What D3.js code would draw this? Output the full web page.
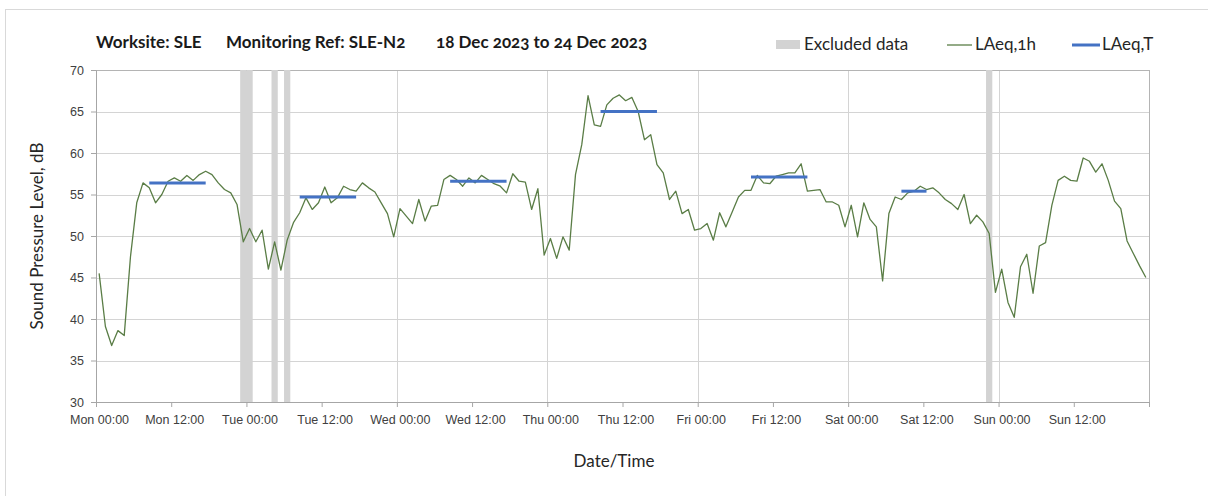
<!DOCTYPE html>
<meta charset="utf-8">
<style>
  body { margin: 0; background: #fff; }
  svg { font-family: Lato, "Open Sans", sans-serif; font-variant-numeric: oldstyle-nums; }
  .axis .domain { stroke: #a6a6a6; }
  .axis .tick line { stroke: #a6a6a6; }
  .axis .tick text { fill: #404040; font-size: 12.5px; }
  .grid line { stroke: #d4d4d4; shape-rendering: crispEdges; }
</style>
<svg width="1208" height="496"></svg>
<script src="https://cdn.jsdelivr.net/npm/d3@7"></script>
<script>
  // hourly LAeq,1h from Mon 18 Dec 2023 00:00
  var startTime = "2023-12-18T00:00:00Z";
  var laeq1h = [
    45.5, 39.1, 36.8, 38.6, 38.0, 47.5, 54.0, 56.4, 55.8, 54.0, 55.0, 56.6,
    57.0, 56.6, 57.3, 56.7, 57.4, 57.8, 57.4, 56.4, 55.6, 55.2, 53.8, 49.3,
    50.9, 49.3, 50.7, 46.0, 49.3, 45.9, 49.5, 51.6, 52.8, 54.6, 53.2, 54.0,
    55.9, 54.0, 54.6, 56.0, 55.6, 55.4, 56.4, 55.8, 55.3, 54.0, 52.7, 49.9,
    53.3, 52.4, 51.5, 54.4, 51.8, 53.6, 53.7, 56.8, 57.3, 56.8, 56.0, 57.0,
    56.4, 57.3, 56.8, 56.3, 56.0, 55.2, 57.5, 56.6, 56.5, 53.2, 55.7, 47.7,
    49.7, 47.3, 49.9, 48.3, 57.4, 61.0, 66.9, 63.4, 63.2, 65.8, 66.6, 67.0,
    66.3, 66.7, 65.0, 61.6, 62.2, 58.6, 57.6, 54.4, 55.4, 52.7, 53.2, 50.7,
    50.9, 51.5, 49.5, 52.8, 51.1, 52.9, 54.7, 55.5, 55.5, 57.3, 56.4, 56.3,
    57.2, 57.4, 57.6, 57.6, 58.7, 55.4, 55.5, 55.6, 54.1, 54.1, 53.7, 51.1,
    53.7, 49.9, 54.0, 52.0, 51.1, 44.6, 52.7, 54.7, 54.4, 55.2, 55.4, 56.0,
    55.6, 55.8, 55.2, 54.4, 53.9, 53.2, 55.0, 51.5, 52.5, 51.7, 50.3, 43.2,
    46.0, 42.0, 40.2, 46.3, 47.8, 43.1, 48.8, 49.2, 53.7, 56.7, 57.2, 56.7,
    56.6, 59.4, 59.0, 57.7, 58.7, 56.7, 54.2, 53.3, 49.4, 47.9, 46.4, 45.0
  ];
  // LAeq,T periods (hour index of first and last hour)
  var periodStart = [8, 32, 56, 80, 104, 128];
  var periodEnd = [17, 41, 65, 89, 113, 132];
  var periodLevel = [56.4, 54.7, 56.6, 65.0, 57.1, 55.4];
  // excluded hours
  var excludedHours = [23, 24, 28, 30, 142];
  var yTicks = [30, 35, 40, 45, 50, 55, 60, 65, 70];

  var svg = d3.select("svg");
  var margin = { top: 70, right: 59, bottom: 94, left: 96 };
  var width = 1208 - margin.left - margin.right;
  var height = 496 - margin.top - margin.bottom;

  var t0 = new Date(startTime);
  var tEnd = d3.utcDay.offset(t0, 7);
  var hour = function(h) { return t0.getTime() + h * 36e5; };

  var x = d3.scaleUtc()
    .domain([t0, tEnd])
    .range([margin.left, margin.left + width]);
  var y = d3.scaleLinear()
    .domain([30, 70])
    .range([margin.top + height, margin.top]);

  // outer frame
  svg.append("rect")
    .attr("x", 5.5).attr("y", 9.5)
    .attr("width", 1220).attr("height", 500)
    .attr("fill", "none").attr("stroke", "#d9d9d9");

  var grid = svg.append("g").attr("class", "grid");
  grid.selectAll(".h").data(yTicks.slice(1))
    .enter().append("line")
    .attr("x1", margin.left).attr("x2", margin.left + width)
    .attr("y1", function(d) { return Math.round(y(d)) + 0.5; })
    .attr("y2", function(d) { return Math.round(y(d)) + 0.5; });
  grid.selectAll(".v").data(d3.utcDay.range(d3.utcDay.offset(t0, 1), tEnd))
    .enter().append("line")
    .attr("stroke", "#dcdcdc")
    .attr("x1", function(d) { return Math.round(x(d)) + 0.5; })
    .attr("x2", function(d) { return Math.round(x(d)) + 0.5; })
    .attr("y1", margin.top).attr("y2", margin.top + height);

  // plot border
  svg.append("rect")
    .attr("x", margin.left + 0.5).attr("y", margin.top + 0.5)
    .attr("width", width).attr("height", height)
    .attr("fill", "none").attr("stroke", "#b4b4b4");

  // excluded bands
  svg.selectAll(".excl").data(excludedHours)
    .enter().append("rect")
    .attr("fill", "#d3d3d3")
    .attr("x", function(d) { return x(hour(d)); })
    .attr("width", function(d) { return x(hour(d + 1)) - x(hour(d)); })
    .attr("y", margin.top)
    .attr("height", height);

  var line = d3.line()
    .x(function(d, i) { return x(hour(i + 0.5)); })
    .y(function(d) { return y(d); });

  svg.append("path")
    .datum(laeq1h)
    .attr("fill", "none")
    .attr("stroke", "#5a7d46")
    .attr("stroke-width", 1.3)
    .attr("stroke-linejoin", "round")
    .attr("d", line);

  svg.selectAll(".period").data(periodLevel)
    .enter().append("line")
    .attr("stroke", "#4472c4")
    .attr("stroke-width", 3)
    .attr("x1", function(d, i) { return x(hour(periodStart[i] + 0.5)); })
    .attr("x2", function(d, i) { return x(hour(periodEnd[i] + 0.5)); })
    .attr("y1", function(d) { return y(d); })
    .attr("y2", function(d) { return y(d); });

  var fmt = d3.utcFormat("%a %H:%M");
  svg.append("g")
    .attr("class", "axis")
    .attr("transform", "translate(0," + (margin.top + height) + ")")
    .call(d3.axisBottom(x)
      .ticks(d3.utcHour.every(12))
      .tickFormat(function(d) { return +d === +tEnd ? "" : fmt(d); })
      .tickSizeOuter(0)
      .tickSize(5)
      .tickPadding(8))
    .selectAll("text").attr("dx", 3);

  svg.append("g")
    .attr("class", "axis")
    .attr("transform", "translate(" + margin.left + ",0)")
    .call(d3.axisLeft(y)
      .tickValues(yTicks)
      .tickSizeOuter(0)
      .tickSize(5)
      .tickPadding(7));

  // title
  var title = svg.append("g")
    .attr("font-weight", "bold")
    .attr("font-size", 17)
    .attr("fill", "#1a1a1a");
  title.append("text").attr("x", 96).attr("y", 48).text("Worksite: SLE");
  title.append("text").attr("x", 226).attr("y", 48).text("Monitoring Ref: SLE-N2");
  title.append("text").attr("x", 436).attr("y", 48).text("18 Dec 2023 to 24 Dec 2023");

  // legend
  var lg = svg.append("g").attr("font-size", 17).attr("fill", "#262626");
  lg.append("rect").attr("x", 776).attr("y", 40).attr("width", 24).attr("height", 9).attr("fill", "#d3d3d3");
  lg.append("text").attr("x", 804).attr("y", 50).text("Excluded data");
  lg.append("line").attr("x1", 947).attr("x2", 972).attr("y1", 45).attr("y2", 45)
    .attr("stroke", "#5a7d46").attr("stroke-width", 1.3);
  lg.append("text").attr("x", 975).attr("y", 50).text("LAeq,1h");
  lg.append("line").attr("x1", 1072).attr("x2", 1100).attr("y1", 45).attr("y2", 45)
    .attr("stroke", "#4472c4").attr("stroke-width", 3);
  lg.append("text").attr("x", 1102).attr("y", 50).text("LAeq,T");

  // axis titles
  svg.append("text")
    .attr("transform", "translate(43," + (margin.top + height / 2) + ") rotate(-90)")
    .attr("text-anchor", "middle")
    .attr("font-size", 17)
    .attr("fill", "#262626")
    .text("Sound Pressure Level, dB");
  svg.append("text")
    .attr("x", 614).attr("y", 467)
    .attr("text-anchor", "middle")
    .attr("font-size", 17)
    .attr("fill", "#262626")
    .text("Date/Time");
</script>
